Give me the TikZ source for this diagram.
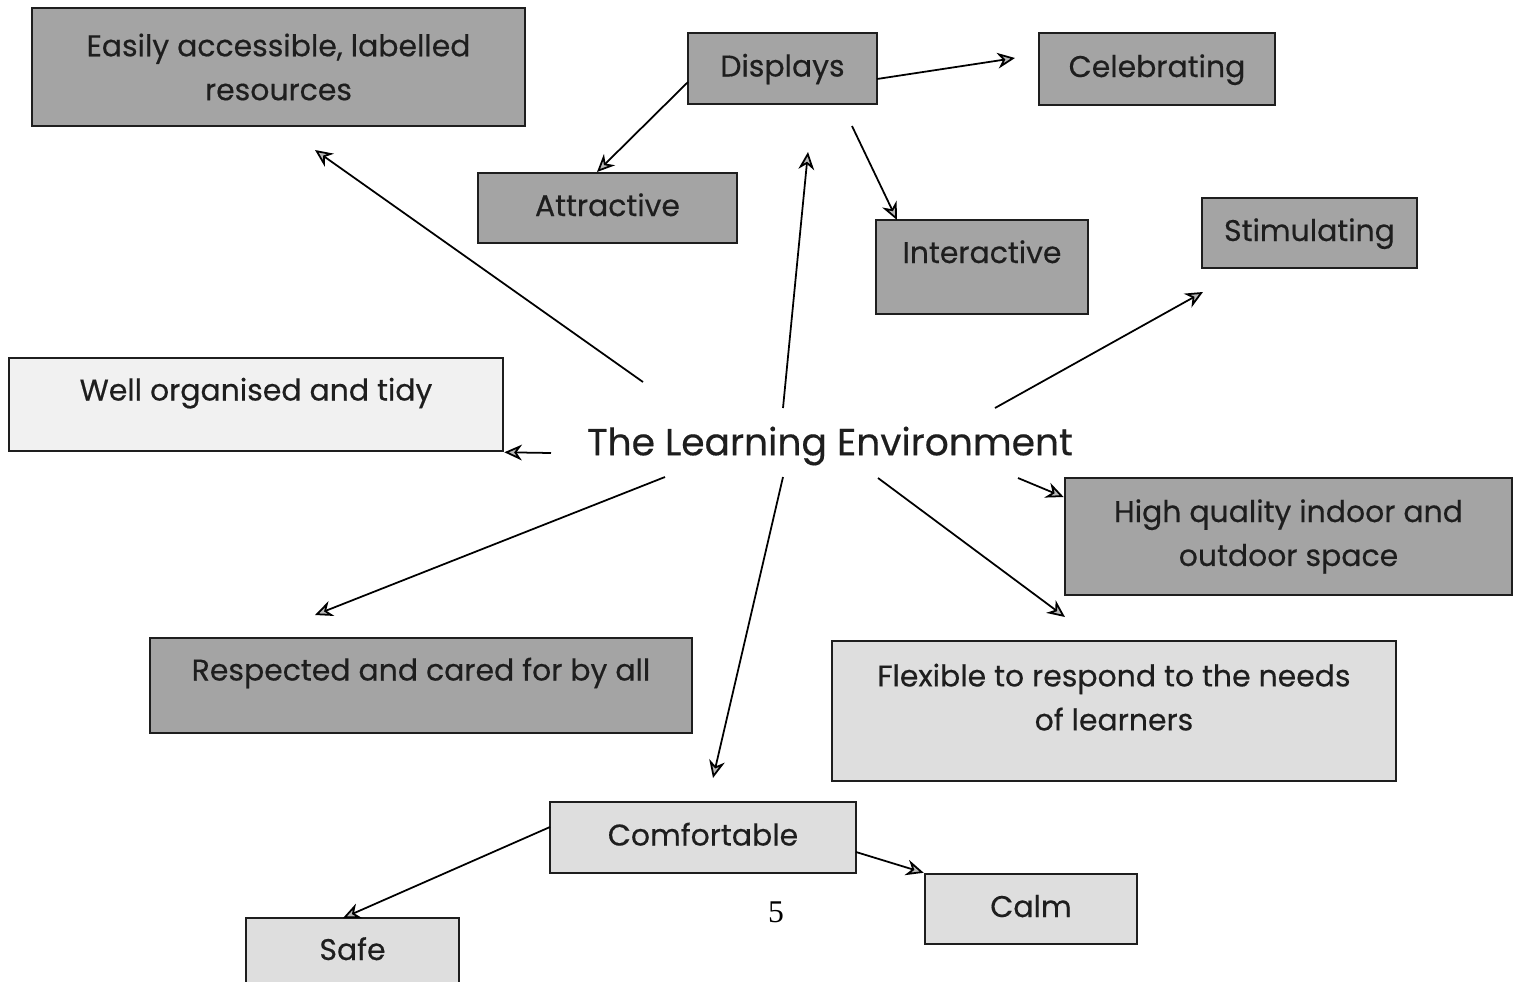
\documentclass[tikz,border=0pt]{standalone}
\usepackage{fontspec}
\setmainfont{Poppins}[FakeBold=0.4]
\newfontfamily\pagenumfont{Liberation Serif}
\usetikzlibrary{arrows.meta}
\definecolor{darkfill}{HTML}{A4A4A4}
\definecolor{lightfill}{HTML}{DEDEDE}
\definecolor{palefill}{HTML}{F1F1F1}
\definecolor{inkcol}{HTML}{1E1E1E}
\tikzset{
  box/.style={draw=inkcol, line width=0.7pt, rectangle, align=center, inner sep=0pt,
    text=inkcol, font=\fontsize{8.5}{12.5}\selectfont},
  darkbox/.style={box, fill=darkfill},
  lightbox/.style={box, fill=lightfill},
  palebox/.style={box, fill=palefill},
  lift/.style={text height=0.22cm, text depth=0.06cm+#1},
  arr/.style={draw=black, line width=0.5pt,
    -{Stealth[length=5pt,width=4.5pt,fill=gray!55,inset=1.6pt]}},
}
\begin{document}
\begin{tikzpicture}[x=0.01cm,y=-0.01cm]
\useasboundingbox (0,0) rectangle (1520,981);
\clip (0,0) rectangle (1520,981);

% central title
\node[text=inkcol, font=\fontsize{10.7}{13}\selectfont] (title) at (830,446) {The Learning Environment};

% boxes
\node[darkbox, minimum width=4.93cm, minimum height=1.18cm] (easy) at (278.5,67) {Easily accessible, labelled\\resources};
\node[darkbox, minimum width=1.89cm, minimum height=0.71cm, lift=0cm] (displays) at (782.5,68.5) {Displays};
\node[darkbox, minimum width=2.36cm, minimum height=0.72cm, lift=0cm] (celeb) at (1157,69) {Celebrating};
\node[darkbox, minimum width=2.59cm, minimum height=0.70cm, lift=0cm] (attract) at (607.5,208) {Attractive};
\node[darkbox, minimum width=2.12cm, minimum height=0.94cm, lift=0.24cm] (interact) at (982,267) {Interactive};
\node[darkbox, minimum width=2.15cm, minimum height=0.70cm, lift=0cm] (stim) at (1309.5,233) {Stimulating};
\node[palebox, minimum width=4.94cm, minimum height=0.93cm, lift=0.24cm] (tidy) at (256,404.5) {Well organised and tidy};
\node[darkbox, minimum width=4.47cm, minimum height=1.17cm] (quality) at (1288.5,536.5) {High quality indoor and\\outdoor space};
\node[darkbox, minimum width=5.42cm, minimum height=0.95cm, lift=0.26cm] (respect) at (421,685.5) {Respected and cared for by all};
\node[lightbox, minimum width=5.64cm, minimum height=1.40cm] (flex) at (1114,711) {Flexible to respond to the needs\\of learners\\[-0.16cm]\mbox{}};
\node[lightbox, minimum width=3.06cm, minimum height=0.71cm, lift=0cm] (comf) at (703,837.5) {Comfortable};
\node[lightbox, minimum width=2.12cm, minimum height=0.70cm, lift=0cm] (calm) at (1031,909) {Calm};
\node[lightbox, minimum width=2.13cm, minimum height=0.90cm, lift=0.22cm] (safe) at (352.5,963) {Safe};

% page number
\node[font=\pagenumfont\fontsize{9}{10}\selectfont] (pagenum) at (776,912) {5};

% connector end points
\coordinate (tEasy) at (643,382);     \coordinate (hEasy) at (315,150);
\coordinate (tUp) at (783,408);       \coordinate (hUp) at (808,152);
\coordinate (tStim) at (995,408);     \coordinate (hStim) at (1203,292);
\coordinate (tTidy) at (551,453);
\coordinate (tQual) at (1018,478);
\coordinate (tResp) at (665,477);     \coordinate (hResp) at (315,615);
\coordinate (tFlex) at (878,478);     \coordinate (hFlex) at (1065,617);
\coordinate (tComf) at (783,477);     \coordinate (hComf) at (713,778);
\coordinate (dAttr) at (688,82);
\coordinate (dCeleb) at (877,79);     \coordinate (hCeleb) at (1015,58);
\coordinate (dInter) at (852,126);
\coordinate (cSafe) at (550,827);
\coordinate (cCalm) at (856,852);

% connectors from the title
\draw[arr] (tEasy) -- (hEasy);
\draw[arr] (tUp) -- (hUp);
\draw[arr] (tStim) -- (hStim);
\draw[arr] (tTidy) -- (tidy.south east);
\draw[arr] (tQual) -- (quality.west |- 0,497);
\draw[arr] (tResp) -- (hResp);
\draw[arr] (tFlex) -- (hFlex);
\draw[arr] (tComf) -- (hComf);

% connectors from Displays
\draw[arr] (dAttr) -- (597,172);
\draw[arr] (dCeleb) -- (hCeleb);
\draw[arr] (dInter) -- (897,220);

% connectors from Comfortable
\draw[arr] (cSafe) -- (343,918);
\draw[arr] (cCalm) -- (calm.north west);
\end{tikzpicture}
\end{document}
